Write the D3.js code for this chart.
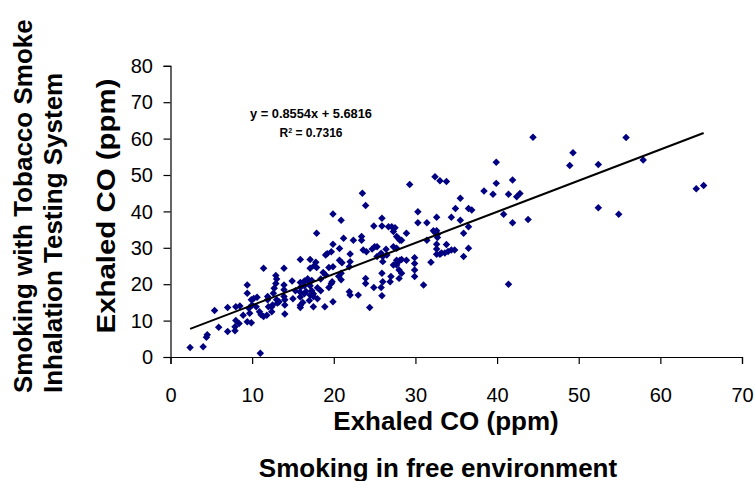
<!DOCTYPE html>
<html>
<head>
<meta charset="utf-8">
<script src="https://cdn.jsdelivr.net/npm/d3@7"></script>
<style>
  body { margin: 0; background: #fff; }
  text { font-family: "Liberation Sans", Arial, sans-serif; }
</style>
</head>
<body>
<div id="scatter"></div>
<script>
// Data
// ================================
// exhaled CO smoking in free environment (x)
var freeCO = [
  2.4, 4.0, 4.5, 4.4, 5.4, 5.9, 7.0, 7.0, 7.9, 7.9,
  8.0, 8.5, 8.0, 8.4, 8.9, 9.4, 9.4, 9.4, 9.9, 9.7,
  9.6, 9.9, 10.2, 10.6, 10.5, 10.0, 11.0, 11.4, 10.9, 11.1,
  11.4, 11.8, 11.9, 11.9, 12.0, 12.4, 12.4, 12.5, 12.7, 12.6,
  12.9, 12.9, 13.0, 13.0, 13.1, 13.3, 13.9, 13.9, 13.9, 13.9,
  14.0, 14.0, 14.0, 14.9, 15.9, 15.9, 15.9, 15.9, 15.9, 15.9,
  15.9, 16.4, 16.4, 16.4, 17.1, 17.1, 17.6, 17.9, 17.8, 17.9,
  17.5, 17.0, 17.1, 17.3, 17.3, 17.5, 17.5, 17.1, 18.4, 18.4,
  18.9, 19.0, 19.2, 19.4, 18.7, 19.0, 19.4, 16.6, 16.8, 17.0,
  16.2, 18.0, 18.0, 15.3, 15.0, 19.9, 19.7, 19.8, 19.9, 20.9,
  19.9, 19.7, 19.9, 20.7, 20.7, 21.0, 20.9, 20.9, 20.6, 21.2,
  22.0, 22.0, 21.9, 22.4, 21.9, 22.0, 23.0, 23.4, 23.4, 23.6,
  23.5, 23.9, 24.0, 23.9, 23.9, 24.4, 24.9, 25.9, 25.9, 25.0,
  25.3, 24.7, 25.3, 25.8, 26.0, 26.0, 26.4, 24.9, 25.8, 25.9,
  25.9, 26.0, 26.7, 27.1, 27.5, 27.3, 26.5, 27.3, 27.7, 27.7,
  28.1, 27.9, 28.3, 28.9, 27.7, 27.7, 28.1, 28.3, 28.9, 26.9,
  27.0, 28.0, 28.0, 28.3, 27.3, 27.7, 29.9, 29.9, 29.9, 29.9,
  30.3, 30.3, 29.3, 31.0, 31.4, 31.4, 32.2, 32.4, 32.6, 32.6,
  32.7, 32.7, 32.6, 32.6, 32.6, 31.9, 32.4, 33.0, 33.8, 33.0,
  33.2, 33.6, 33.8, 34.0, 34.4, 34.8, 34.4, 34.9, 35.5, 35.5,
  35.9, 35.9, 36.5, 36.9, 36.5, 36.5, 38.4, 39.5, 39.9, 39.9,
  40.8, 41.4, 41.9, 42.4, 42.8, 41.9, 43.8, 41.4, 44.4, 48.9,
  49.3, 52.4, 52.4, 54.9, 55.8, 57.9, 64.4, 65.3
];

// exhaled CO smoking with the testing system (y)
var systemCO = [
  2.6, 2.8, 6.1, 5.4, 12.8, 8.2, 13.6, 7.0, 8.3, 7.2,
  13.8, 14.0, 10.0, 9.2, 11.5, 19.8, 17.5, 9.7, 9.4, 12.0,
  13.4, 15.7, 16.1, 16.4, 13.8, 14.3, 1.0, 24.4, 12.4, 11.6,
  11.1, 11.5, 15.7, 16.6, 13.8, 13.8, 12.4, 14.3, 18.9, 17.5,
  20.2, 22.4, 21.4, 15.7, 14.8, 15.2, 24.4, 19.8, 18.5, 16.6,
  15.7, 14.3, 11.8, 20.9, 26.8, 20.5, 19.1, 17.8, 16.5, 14.2,
  13.6, 20.9, 19.6, 17.4, 26.8, 24.4, 25.1, 24.6, 26.0, 34.0,
  13.8, 20.5, 19.6, 21.0, 18.2, 17.4, 16.6, 17.0, 21.4, 18.2,
  13.8, 28.0, 28.4, 19.1, 23.2, 22.5, 24.6, 18.0, 21.5, 15.5,
  15.0, 19.0, 16.0, 18.2, 16.0, 15.2, 20.2, 20.7, 39.3, 37.6,
  24.8, 28.9, 31.0, 29.8, 26.6, 25.9, 21.2, 23.0, 22.2, 32.6,
  28.3, 26.2, 24.8, 32.1, 17.9, 17.0, 17.0, 33.1, 32.1, 29.4,
  45.0, 41.6, 28.9, 21.6, 20.2, 13.6, 36.0, 36.0, 38.1, 30.3,
  30.3, 29.7, 27.6, 28.5, 26.2, 27.6, 29.6, 19.1, 19.1, 16.8,
  23.0, 20.7, 35.8, 35.8, 35.5, 34.5, 28.0, 30.3, 29.9, 33.1,
  32.1, 32.6, 32.1, 34.0, 26.6, 25.7, 26.6, 26.8, 26.6, 20.7,
  22.1, 21.6, 23.9, 23.0, 25.3, 25.3, 27.3, 25.7, 23.9, 22.1,
  39.9, 36.9, 47.4, 19.8, 36.9, 32.1, 34.7, 34.2, 34.7, 38.4,
  33.7, 32.8, 31.0, 29.7, 28.2, 26.0, 49.5, 48.4, 48.2, 28.2,
  28.6, 28.6, 30.9, 29.0, 29.4, 29.4, 38.4, 40.8, 43.6, 37.6,
  34.0, 27.6, 40.8, 40.4, 35.8, 29.9, 45.6, 44.7, 53.5, 47.7,
  39.2, 44.7, 48.6, 44.0, 44.9, 36.9, 37.8, 20.0, 60.4, 52.6,
  56.1, 52.9, 41.0, 39.2, 60.3, 54.1, 46.2, 47.1
];

var xTicks = [0, 10, 20, 30, 40, 50, 60, 70];
var yTicks = [0, 10, 20, 30, 40, 50, 60, 70, 80];

// linear trend line shown on the chart
var slope = 0.8554;
var intercept = 5.6816;
var rSquared = "0.7316";

var pointData = freeCO.map(function (d, i) {
  return { x: d, y: systemCO[i] };
});

// Set up our chart
// ================================
var svgWidth = 755;
var svgHeight = 481;

var svg = d3
  .select("#scatter")
  .append("svg")
  .attr("width", svgWidth)
  .attr("height", svgHeight);

var xLinearScale = d3.scaleLinear().domain([0, 70]).range([170.5, 742]);
var yLinearScale = d3.scaleLinear().domain([0, 80]).range([357, 65.8]);

// axes
var bottomAxis = d3
  .axisBottom(xLinearScale)
  .tickValues(xTicks)
  .tickSize(7);

var leftAxis = d3
  .axisLeft(yLinearScale)
  .tickValues(yTicks)
  .tickSize(7);

var xAxis = svg
  .append("g")
  .attr("transform", "translate(0, 357)")
  .call(bottomAxis);

var yAxis = svg
  .append("g")
  .attr("transform", "translate(170.5, 0)")
  .call(leftAxis);

[xAxis, yAxis].forEach(function (ax) {
  ax.select(".domain").attr("stroke", "#000").attr("stroke-width", 1.2);
  ax.selectAll(".tick line").attr("stroke", "#000").attr("stroke-width", 1.2);
  ax.selectAll(".tick text")
    .attr("fill", "#000")
    .style("font-size", "20px")
    .style("font-family", "'Liberation Sans', Arial, sans-serif");
});

// place tick labels like the original
xAxis.selectAll(".tick text").attr("dy", "0").attr("y", 45);
yAxis.selectAll(".tick text").attr("x", -17.5).attr("dy", "0.33em");

// points
var diamond = d3.symbol().type(d3.symbolSquare).size(28);

svg
  .append("g")
  .selectAll("path")
  .data(pointData)
  .enter()
  .append("path")
  .attr("d", diamond)
  .attr("transform", function (d) {
    return `translate(${xLinearScale(d.x)}, ${yLinearScale(d.y)}) rotate(45)`;
  })
  .attr("fill", "#000080");

// trend line over the data range
var xRange = d3.extent(freeCO);
var trendLine = d3
  .line()
  .x((d) => xLinearScale(d))
  .y((d) => yLinearScale(slope * d + intercept));

svg
  .append("path")
  .datum(xRange)
  .attr("d", trendLine)
  .attr("fill", "none")
  .attr("stroke", "#000")
  .attr("stroke-width", 2);

// equation label
var eqGroup = svg
  .append("g")
  .attr("text-anchor", "middle")
  .style("font-size", "12px")
  .style("font-weight", "bold");

eqGroup
  .append("text")
  .attr("x", 311)
  .attr("y", 118)
  .attr("textLength", 122)
  .attr("lengthAdjust", "spacingAndGlyphs")
  .text(`y = ${slope}x + ${intercept}`);

var r2 = eqGroup.append("text").attr("x", 311).attr("y", 136.5);
r2.append("tspan").text("R");
r2.append("tspan").attr("dy", -4).style("font-size", "7px").text("2");
r2.append("tspan").attr("dy", 4).text(` = ${rSquared}`);

// axis titles
svg
  .append("text")
  .attr("x", 446)
  .attr("y", 430)
  .attr("text-anchor", "middle")
  .style("font-size", "26px")
  .style("font-weight", "bold")
  .text("Exhaled CO (ppm)");

svg
  .append("text")
  .attr("x", 438)
  .attr("y", 477)
  .attr("text-anchor", "middle")
  .style("font-size", "26px")
  .style("font-weight", "bold")
  .text("Smoking in free environment");

svg
  .append("text")
  .attr("transform", "translate(115, 206) rotate(-90)")
  .attr("text-anchor", "middle")
  .attr("textLength", 255)
  .attr("lengthAdjust", "spacingAndGlyphs")
  .style("font-size", "26px")
  .style("font-weight", "bold")
  .text("Exhaled CO (ppm)");

var sideTitle = ["Smoking with Tobacco Smoke", "Inhalation Testing System"];

svg
  .append("g")
  .selectAll("text")
  .data(sideTitle)
  .enter()
  .append("text")
  .attr("transform", (d, i) => `translate(${32 + i * 30}, 393) rotate(-90)`)
  .attr("text-anchor", "start")
  .style("font-size", "26px")
  .style("font-weight", "bold")
  .text((d) => d);
</script>
</body>
</html>
